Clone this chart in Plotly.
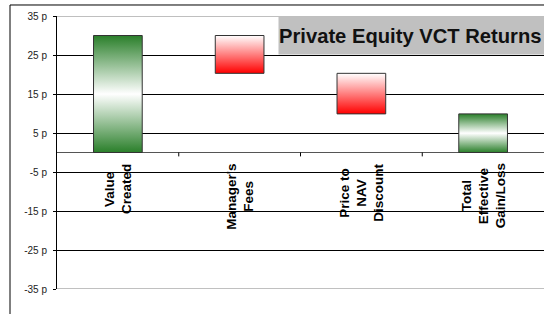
import plotly.graph_objects as go

# ---- data ----
category_lines = [["Value", "Created"], ["Manager's", "Fees"], ["Price to", "NAV", "Discount"],
                  ["Total", "Effective", "Gain/Loss"]]
changes = [30.0, -9.7, -10.4]          # pence, waterfall steps
y_tick_values = [35, 25, 15, 5, -5, -15, -25, -35]
y_tick_labels = [f"{v} p" for v in y_tick_values]
title_text = "Private Equity VCT Returns"

# waterfall bases/tops
bars = []
running = 0.0
for c in changes:
    bars.append((running, running + c))
    running += c
bars.append((0.0, running))  # total

GREEN = "#2a7f2a"
RED = "#ff0000"
half_w = 0.2
FONT = "Arial, Liberation Sans, sans-serif"

fig = go.Figure()
for i, (b0, b1) in enumerate(bars):
    lo, hi = min(b0, b1), max(b0, b1)
    if b1 >= b0:
        cs = [[0, GREEN], [0.5, "#ffffff"], [1, GREEN]]
    else:
        cs = [[0, RED], [1, "#ffffff"]]
    fig.add_trace(go.Scatter(
        x=[i - half_w, i + half_w, i + half_w, i - half_w, i - half_w],
        y=[lo, lo, hi, hi, lo],
        mode="lines", fill="toself",
        fillgradient=dict(type="vertical", colorscale=cs),
        line=dict(color="#333333", width=1),
        hoverinfo="skip", showlegend=False,
    ))

# approximate Arial Bold advance widths (per 1000 em) for centring rotated lines
AW = {"V": 667, "a": 556, "l": 278, "u": 611, "e": 556, "C": 722, "r": 389, "t": 333, "d": 611,
      "M": 833, "n": 611, "g": 611, "'": 238, "s": 556, "F": 611, "P": 667, "i": 278, "o": 611,
      "N": 722, "A": 722, "D": 722, "c": 556, "T": 611, "E": 667, "f": 333, "v": 556, "G": 778,
      "/": 278, "L": 611, " ": 278}
LAB_SIZE = 13.5
LINE_GAP = 17
TOP_GAP = 11  # px between zero line and top of the longest line


def text_len(s):
    return sum(AW.get(ch, 556) for ch in s) / 1000 * LAB_SIZE


for i, lines in enumerate(category_lines):
    longest = max(text_len(s) for s in lines)
    centre_shift = -(TOP_GAP + longest / 2)
    n = len(lines)
    for k, s in enumerate(lines):
        fig.add_annotation(
            x=i, y=0, xref="x", yref="y", text="<b>" + s + "</b>", textangle=-90,
            showarrow=False, xanchor="center", yanchor="middle",
            xshift=(k - (n - 1) / 2) * LINE_GAP, yshift=centre_shift,
            font=dict(family=FONT, size=LAB_SIZE, color="#000"),
        )

# category boundary tick marks on the zero line
for k in range(1, len(category_lines)):
    fig.add_shape(type="line", xref="x", yref="y", x0=k - 0.5, x1=k - 0.5, y0=0, y1=-1,
                  line=dict(color="#000", width=1))

# grey top / bottom plot lines
for yv in (35, -35):
    fig.add_shape(type="line", xref="paper", yref="y", x0=0, x1=1, y0=yv, y1=yv,
                  line=dict(color="#808080", width=1), layer="below")

# outer chart frame
fig.add_shape(type="rect", xref="paper", yref="paper", x0=-0.0965, x1=1.2, y0=-0.5, y1=1.0403,
              line=dict(color="#000", width=1), fillcolor="rgba(0,0,0,0)", layer="below")

# title box
fig.add_annotation(
    xref="paper", yref="paper", x=0.4538, y=1, xanchor="left", yanchor="top",
    text="<b>" + title_text + "</b>", showarrow=False, align="left", valign="middle",
    width=266, height=37, borderpad=0, bgcolor="#c0c0c0",
    font=dict(family=FONT, size=20.2, color="#111"),
)

fig.update_layout(
    width=544, height=314,
    margin=dict(l=57, r=0, t=16, b=25),
    paper_bgcolor="white", plot_bgcolor="white",
    xaxis=dict(range=[-0.5, 3.5], showticklabels=False, showgrid=False, zeroline=False,
               showline=False, ticks="", fixedrange=True),
    yaxis=dict(range=[-35, 35], tickvals=y_tick_values, ticktext=y_tick_labels,
               showgrid=True, gridcolor="#000", gridwidth=1,
               zeroline=True, zerolinecolor="#555", zerolinewidth=1,
               showline=True, linecolor="#000", linewidth=1,
               ticks="outside", ticklen=3, tickcolor="#000", ticklabelstandoff=4,
               tickfont=dict(family=FONT, size=10, color="#222")),
)

fig.write_html("out.html", config={"displayModeBar": False},
               post_script="document.body.style.margin='0';")
